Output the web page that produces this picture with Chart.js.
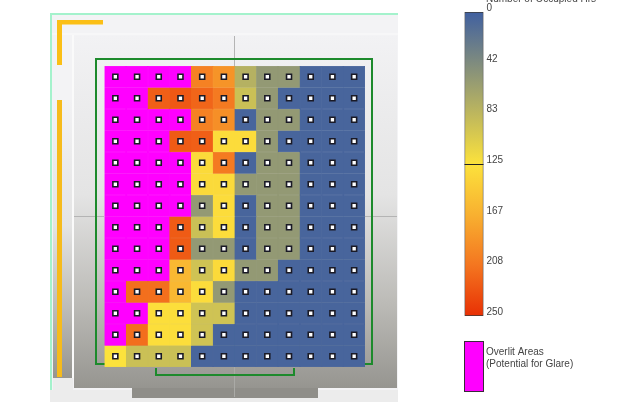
<!DOCTYPE html>
<html>
<head>
<meta charset="utf-8">
<script src="https://cdn.jsdelivr.net/npm/chart.js@4"></script>
<style>
html, body { margin: 0; padding: 0; background: #fff; }
body { position: relative; width: 623px; height: 402px; overflow: hidden; }
canvas { position: absolute; top: 0; }
#heat { left: 0; }
#scale { left: 450px; }
</style>
</head>
<body>
<canvas id="heat" width="450" height="402"></canvas>
<canvas id="scale" width="173" height="402"></canvas>
<script>
const OVER = 999; // overlit cell, above the colour bar

const columns = ["1", "2", "3", "4", "5", "6", "7", "8", "9", "10", "11", "12"];
const rows = ["1", "2", "3", "4", "5", "6", "7", "8", "9", "10", "11", "12", "13", "14"];

const row1 = [OVER, OVER, OVER, OVER, 200, 187, 78, 55, 55, 5, 5, 5];
const row2 = [OVER, OVER, 222, 226, 218, 205, 92, 55, 5, 5, 5, 5];
const row3 = [OVER, OVER, OVER, OVER, 200, 190, 5, 55, 55, 5, 5, 5];
const row4 = [OVER, OVER, OVER, 224, 222, 130, 130, 55, 5, 5, 5, 5];
const row5 = [OVER, OVER, OVER, OVER, 132, 205, 5, 55, 55, 5, 5, 5];
const row6 = [OVER, OVER, OVER, OVER, 132, 132, 55, 55, 55, 5, 5, 5];
const row7 = [OVER, OVER, OVER, OVER, 55, 130, 5, 55, 55, 5, 5, 5];
const row8 = [OVER, OVER, OVER, 224, 92, 130, 5, 55, 55, 5, 5, 5];
const row9 = [OVER, OVER, OVER, 224, 55, 55, 5, 55, 55, 5, 5, 5];
const row10 = [OVER, OVER, OVER, 160, 95, 132, 55, 55, 5, 5, 5, 5];
const row11 = [OVER, 212, 212, 160, 130, 55, 5, 5, 5, 5, 5, 5];
const row12 = [OVER, OVER, 128, 128, 95, 95, 5, 5, 5, 5, 5, 5];
const row13 = [OVER, 212, 128, 128, 95, 5, 5, 5, 5, 5, 5, 5];
const row14 = [125, 92, 92, 92, 5, 5, 5, 5, 5, 5, 5, 5];
const hourRows = [row1, row2, row3, row4, row5, row6, row7, row8, row9, row10, row11, row12, row13, row14];

const scaleTicks = [0, 42, 83, 125, 167, 208, 250];
const scaleMax = 250;

const stops = [
  [0, [64, 96, 160]],
  [125, [252, 226, 60]],
  [167, [248, 176, 48]],
  [208, [244, 118, 32]],
  [250, [232, 48, 4]]
];

function colorFor(v) {
  if (v > scaleMax) return "#ff00ff";
  for (let i = 1; i < stops.length; i++) {
    if (v <= stops[i][0]) {
      const t = (v - stops[i - 1][0]) / (stops[i][0] - stops[i - 1][0]);
      const a = stops[i - 1][1], b = stops[i][1];
      return `rgb(${a.map((c, k) => Math.round(c + (b[k] - c) * t)).join(",")})`;
    }
  }
  return "#e83004";
}

// floor plan behind the grid, it carries no data
const floorPlan = {
  id: "floorPlan",
  beforeDraw(chart) {
    const c = chart.ctx;
    const rect = (col, x, y, w, h) => { c.fillStyle = col; c.fillRect(x, y, w, h); };
    const fade = (y0, y1) => {
      const g = c.createLinearGradient(0, y0, 0, y1);
      g.addColorStop(0, "#f2f2f4");
      g.addColorStop(0.45, "#e4e4e4");
      g.addColorStop(0.75, "#bdbcb8");
      g.addColorStop(1, "#969590");
      return g;
    };
    c.save();
    rect("#f3f3f5", 52, 15, 346, 375);
    rect("#ececec", 50, 390, 348, 12);
    rect(fade(100, 378), 53, 100, 19, 278);
    rect("#ececec", 53, 378, 20, 24);
    rect("#fafafa", 72, 34, 2, 344);
    rect("#f7f7f8", 52, 33, 346, 2);
    rect(fade(36, 388), 74, 36, 323, 352);
    rect("#8f8e89", 132, 388, 186, 10);
    // cross lines of the plan
    rect("#b4b4b4", 234, 36, 1, 30);
    rect("#b4b4b4", 74, 216, 30, 1);
    rect("#b4b4b4", 365, 216, 32, 1);
    rect("#aaaaa6", 234, 367, 1, 30);
    // pipes
    rect("#fbbf16", 57, 20, 46, 4.5);
    rect("#fbbf16", 57, 20, 5, 45);
    rect("#f6bb1c", 57, 100, 5, 277);
    // room outline
    c.strokeStyle = "#a4f2cc";
    c.lineWidth = 2;
    c.beginPath();
    c.moveTo(51, 390); c.lineTo(51, 14); c.lineTo(398, 14);
    c.stroke();
    c.strokeStyle = "#1d8a2c";
    c.beginPath();
    c.moveTo(105, 364); c.lineTo(96, 364); c.lineTo(96, 59); c.lineTo(372, 59); c.lineTo(372, 364); c.lineTo(364, 364);
    c.moveTo(156, 368); c.lineTo(156, 375); c.lineTo(294, 375); c.lineTo(294, 368);
    c.stroke();
    c.restore();
  }
};

const cellSets = hourRows.map((vals, r) => ({
  type: "bar",
  data: vals.map(() => [r, r + 1]),
  backgroundColor: vals.map(colorFor),
  borderColor: vals.map(colorFor),
  borderWidth: 0.5,
  borderSkipped: false,
  barPercentage: 1,
  categoryPercentage: 1,
  grouped: false,
  order: 2
}));

const sensorPoints = [];
rows.forEach((_, r) => columns.forEach(col => sensorPoints.push({ x: col, y: r + 0.5 })));

new Chart(document.getElementById("heat"), {
  data: {
    labels: columns,
    datasets: cellSets.concat([{
      type: "scatter",
      data: sensorPoints,
      pointStyle: "rect",
      radius: 3.5,
      backgroundColor: "#ffffff",
      borderColor: "#1a1a26",
      borderWidth: 1.6,
      order: 1
    }])
  },
  options: {
    responsive: false,
    animation: false,
    layout: { padding: { left: 104.5, right: 85, top: 66, bottom: 35 } },
    plugins: { legend: { display: false }, tooltip: { enabled: false } },
    scales: {
      x: { type: "category", offset: true, display: false },
      y: { type: "linear", min: 0, max: rows.length, reverse: true, display: false }
    }
  },
  plugins: [floorPlan]
});

// title, threshold line and overlit swatch of the colour bar
const scaleExtras = {
  id: "scaleExtras",
  afterDraw(chart) {
    const c = chart.ctx, y = chart.scales.y.getPixelForValue(125), a = chart.chartArea;
    c.save();
    c.strokeStyle = "#222";
    c.lineWidth = 1;
    c.beginPath();
    c.moveTo(a.left, Math.round(y) + 0.5); c.lineTo(a.right, Math.round(y) + 0.5);
    c.stroke();
    c.fillStyle = "#ff00ff";
    c.fillRect(14.5, 341.5, 19, 50);
    c.strokeStyle = "#3a2a3a";
    c.strokeRect(14.5, 341.5, 19, 50);
    c.font = "10px 'Liberation Sans'";
    c.fillStyle = "#444";
    c.textBaseline = "middle";
    c.fillText("Overlit Areas", 36, 352);
    c.fillText("(Potential for Glare)", 36, 364);
    c.textBaseline = "alphabetic";
    c.fillText("Number of Occupied Hrs", 36, 2);
    c.restore();
  }
};

new Chart(document.getElementById("scale"), {
  type: "bar",
  data: {
    labels: ["hours"],
    datasets: [{
      data: [[0, scaleMax]],
      backgroundColor(ctx) {
        const { chart } = ctx, s = chart.scales.y;
        if (!chart.chartArea) return "#888";
        const g = chart.ctx.createLinearGradient(0, s.getPixelForValue(0), 0, s.getPixelForValue(scaleMax));
        stops.forEach(([v, col]) => g.addColorStop(v / scaleMax, `rgb(${col.join(",")})`));
        return g;
      },
      borderColor: "#3a3a3a",
      borderWidth: 1,
      borderSkipped: false,
      barPercentage: 1,
      categoryPercentage: 1
    }]
  },
  options: {
    responsive: false,
    animation: false,
    layout: { padding: { left: 14.5, right: 79.5, top: 12, bottom: 86 } },
    plugins: {
      legend: { display: false },
      tooltip: { enabled: false },
      title: { display: false }
    },
    scales: {
      x: { display: false, offset: true },
      y: {
        type: "linear",
        position: "right",
        reverse: true,
        min: 0,
        max: scaleMax,
        border: { display: false },
        grid: { display: false, drawTicks: false },
        afterBuildTicks(s) { s.ticks = scaleTicks.map(v => ({ value: v })); },
        afterFit(s) { s.width = 60; },
        ticks: {
          autoSkip: false,
          padding: 3,
          labelOffset: -4,
          color: "#444",
          font: { family: "'Liberation Sans'", size: 10 },
          callback: v => String(v)
        }
      }
    }
  },
  plugins: [scaleExtras]
});
</script>
</body>
</html>
